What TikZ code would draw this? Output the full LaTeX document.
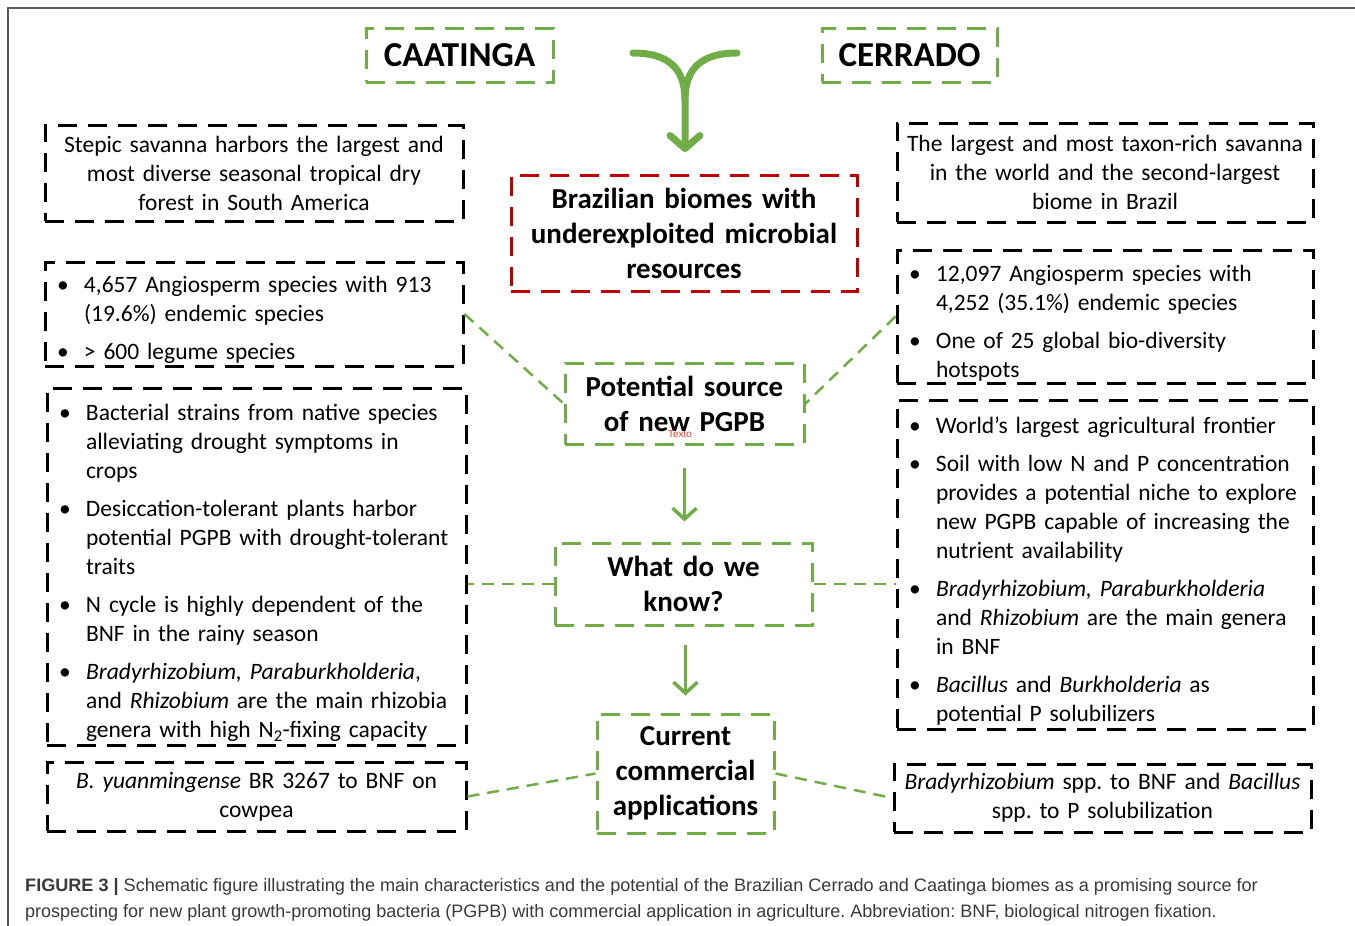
\documentclass[tikz,border=0pt]{standalone}
\usepackage{fontspec}
\setmainfont{Carlito}
\newfontfamily\capfont{Liberation Sans}
\usetikzlibrary{arrows.meta}
\definecolor{grn}{HTML}{70AD47}
\definecolor{dred}{HTML}{C00000}
\definecolor{capgray}{HTML}{3A3A3A}
\definecolor{txred}{HTML}{F03A22}
\frenchspacing
\newcommand\bitem[1]{\par\hangindent=27pt\hangafter=1\noindent\makebox[27pt][l]{\textbullet}#1\par}
\newcommand\bgap{\vspace{9pt}}
\begin{document}
\frenchspacing
\begin{tikzpicture}[x=1pt,y=-1pt,
  box/.style={line width=3pt, dash pattern=on 19pt off 11pt, inner ysep=0pt},
  blk/.style={box, draw=black, inner xsep=12pt, font=\fontsize{23.5}{29}\selectfont\raggedright},
  blkc/.style={box, draw=black, inner xsep=4pt, align=center, font=\fontsize{23.5}{29}\selectfont},
  gbox/.style={box, draw=grn, inner xsep=4pt, align=center, font=\bfseries\fontsize{29}{35}\selectfont},
  rbox/.style={box, draw=dred, inner xsep=4pt, align=center, font=\bfseries\fontsize{29}{35}\selectfont},
  tbox/.style={box, draw=grn, inner xsep=4pt, align=center, font=\bfseries\fontsize{35}{40}\selectfont},
  conn/.style={draw=grn, line width=2.5pt, dash pattern=on 12pt off 8pt},
  arr/.style={draw=grn, line width=3.5pt, -{Straight Barb[length=11pt,width=24pt]}},
  ybody/.style={draw=grn, line width=7pt, line cap=round, line join=round}
]
\useasboundingbox (0,0) rectangle (1355,926);
\fill[white] (0,0) rectangle (1355,926);
\draw[gray!70!black, line width=1.2pt] (8,926) -- (8,8) -- (1355,8);

% titles
\node[tbox, minimum width=187pt, minimum height=54pt, text width=179pt] (CA) at (459.5,55) {CAATINGA};
\node[tbox, minimum width=175pt, minimum height=54pt, text width=167pt] (CE) at (909.5,55) {CERRADO};

% center
\node[rbox, minimum width=346pt, minimum height=116pt, text width=338pt] (RB) at (684,233) {Brazilian biomes with\\underexploited microbial\\resources};
\node[gbox, minimum width=239pt, minimum height=81pt, text width=231pt] (P) at (684.5,403.5) {Potential source\\of new PGPB};
\node[text=txred, font=\capfont\fontsize{10}{11}\selectfont, inner sep=0pt] (tx) at (680,434) {Texto};
\node[gbox, minimum width=257pt, minimum height=82pt, text width=249pt] (W) at (683.5,584) {What do we\\know?};
\node[gbox, minimum width=177pt, minimum height=119pt, text width=169pt] (C) at (685.5,773.5) {Current\\commercial\\applications};

% left column
\node[blkc, minimum width=418pt, minimum height=96pt, text width=410pt] (L1) at (254,173) {Stepic savanna harbors the largest and\\most diverse seasonal tropical dry\\forest in South America};
\node[blk, minimum width=418pt, minimum height=104pt, text width=394pt] (L2) at (254,314) {%
\bitem{\mbox{4,657 Angiosperm species with 913}\newline\mbox{(19.6\%) endemic species}}\bgap
\bitem{\mbox{> 600 legume species}}};
\node[blk, minimum width=419pt, minimum height=357pt, text width=395pt] (L3) at (256.5,566.5) {%
\bitem{\mbox{Bacterial strains from native species}\newline\mbox{alleviating drought symptoms in}\newline\mbox{crops}}\bgap
\bitem{\mbox{Desiccation-tolerant plants harbor}\newline\mbox{potential PGPB with drought-tolerant}\newline\mbox{traits}}\bgap
\bitem{\mbox{N cycle is highly dependent of the}\newline\mbox{BNF in the rainy season}}\bgap
\bitem{\mbox{\textit{Bradyrhizobium, Paraburkholderia},}\newline\mbox{and \textit{Rhizobium} are the main rhizobia}\newline\mbox{genera with high N\textsubscript{2}-fixing capacity}}};
\node[blkc, minimum width=419pt, minimum height=69pt, text width=411pt] (L4) at (256.5,796.5) {\textit{B. yuanmingense} BR 3267 to BNF on\\cowpea};

% right column
\node[blkc, minimum width=416pt, minimum height=99pt, text width=408pt] (R1) at (1105,172.5) {The largest and most taxon-rich savanna\\in the world and the second-largest\\biome in Brazil};
\node[blk, minimum width=416pt, minimum height=133pt, text width=392pt] (R2) at (1105,316.5) {%
\bitem{\mbox{12,097 Angiosperm species with}\newline\mbox{4,252 (35.1\%) endemic species}}\bgap
\bitem{\mbox{One of 25 global bio-diversity}\newline\mbox{hotspots}}};
\node[blk, minimum width=416pt, minimum height=329pt, text width=392pt] (R3) at (1105,564.5) {%
\bitem{\mbox{World’s largest agricultural frontier}}\bgap
\bitem{\mbox{Soil with low N and P concentration}\newline\mbox{provides a potential niche to explore}\newline\mbox{new PGPB capable of increasing the}\newline\mbox{nutrient availability}}\bgap
\bitem{\mbox{\textit{Bradyrhizobium, Paraburkholderia}}\newline\mbox{and \textit{Rhizobium} are the main genera}\newline\mbox{in BNF}}\bgap
\bitem{\mbox{\textit{Bacillus} and \textit{Burkholderia} as}\newline\mbox{potential P solubilizers}}};
\node[blkc, minimum width=417pt, minimum height=68pt, text width=409pt] (R4) at (1102.5,798) {\textit{Bradyrhizobium} spp.\ to BNF and \textit{Bacillus}\\spp.\ to P solubilization};

% Y arrow
\coordinate (yl) at (633,53);
\coordinate (yr) at (737,53);
\coordinate (ym) at (685,100);
\coordinate (yend) at (685,152);
\draw[ybody] (yr) .. controls (702,53) and (685,68) .. (ym);
\draw[ybody, -{Straight Barb[length=13pt,width=30pt,round]}] (yl) .. controls (668,53) and (685,68) .. (ym) -- (yend);

% arrows
\draw[arr, shorten <=22pt, shorten >=20pt] (P.south) -- (P.south |- W.north);
\draw[arr, shorten <=18pt, shorten >=17pt] ([xshift=2pt]W.south) -- ([xshift=2pt]W.south |- C.north);

% connectors
\draw[conn] (L2.east) -- (P.west);
\draw[conn] (R2.west) -- (P.east);
\draw[conn] (W.west) -- (W.west -| L3.east);
\draw[conn] (W.east) -- (W.east -| R3.west);
\draw[conn] (L4.east) -- (C.west);
\draw[conn] (C.east) -- (R4.west);

% caption
\node[anchor=base west, inner sep=0pt, text=capgray, font=\capfont\fontsize{18}{20}\selectfont] (cap1) at (25,891) {\scalebox{1.005}[1]{\textbf{FIGURE 3 |} Schematic figure illustrating the main characteristics and the potential of the Brazilian Cerrado and Caatinga biomes as a promising source for}};
\node[anchor=base west, inner sep=0pt, text=capgray, font=\capfont\fontsize{18}{20}\selectfont] (cap2) at (25,917) {\scalebox{1.0}[1]{prospecting for new plant growth-promoting bacteria (PGPB) with commercial application in agriculture. Abbreviation: BNF, biological nitrogen fixation.}};
\end{tikzpicture}
\end{document}
